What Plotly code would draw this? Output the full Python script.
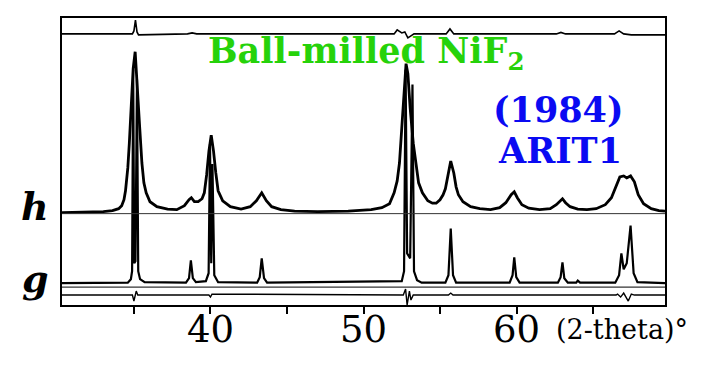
import plotly.graph_objects as go

# ---------------- data ----------------
# pattern h (ball-milled NiF2, ARIT1 fit): 2-theta (deg) and intensity above its baseline
h_theta = [30.3, 32.0, 33.0, 33.6, 34.0, 34.2, 34.35, 34.45, 34.6, 34.7, 34.8, 34.95, 35.08, 35.22, 35.38,
           35.52, 35.65, 35.8, 36.05, 36.5, 37.2, 37.8, 38.3, 38.6, 38.75, 38.95, 39.2, 39.45, 39.6, 39.75,
           39.9, 40.05, 40.2, 40.35, 40.5, 40.8, 41.3, 42.0, 42.6, 43.0, 43.35, 43.65, 44.0, 44.6, 45.5,
           47.0, 49.0, 50.5, 51.2, 51.7, 52.0, 52.2, 52.35, 52.5, 52.65, 52.78, 52.9, 53.05, 53.25, 53.45,
           53.6, 53.85, 54.2, 54.5, 54.75, 55.0, 55.2, 55.35, 55.5, 55.7, 55.9, 56.05, 56.2, 56.5, 57.0,
           57.6, 58.3, 58.9, 59.3, 59.65, 59.85, 60.05, 60.35, 60.8, 61.5, 62.2, 62.6, 62.85, 63.0, 63.2,
           63.5, 64.0, 64.6, 65.2, 65.8, 66.2, 66.5, 66.75, 67.0, 67.2, 67.45, 67.7, 67.95, 68.3, 68.8,
           69.3, 69.7]
h_int = [0, 0.5, 1, 2, 4, 7, 13, 22, 45, 70, 100, 145, 162, 130, 85,
         50, 30, 20, 11, 6, 3.5, 3, 7, 13, 15, 11, 11, 14, 20, 38,
         62, 78, 62, 40, 22, 12, 6, 3.5, 6, 12, 20, 12, 6, 3, 1.5,
         1, 1.5, 3, 5, 9, 20, 32, 50, 85, 125, 150, 140, 105, 70, 45,
         30, 20, 12, 9.5, 9.5, 13, 18, 24, 38, 52, 40, 26, 18, 11, 6,
         4, 3, 5, 10, 18, 21, 15, 8, 4.5, 3, 4, 8, 12, 14, 10,
         6, 3.5, 3, 4, 8, 15, 27, 36, 37, 35, 37, 31, 18, 9, 4,
         2, 1.5]

# pattern g
g_theta = [30.3, 34.6, 34.8, 34.88, 34.95, 35.02, 35.1, 35.2, 35.28, 35.4, 35.7,
           38.4, 38.6, 38.72, 38.85, 39.05,
           39.7, 39.88, 39.97, 40.05, 40.13, 40.25, 40.5,
           43.05, 43.22, 43.35, 43.5, 43.7,
           52.5, 52.65, 52.75, 52.85, 53.05, 53.2, 53.3, 53.5, 53.8,
           55.35, 55.55, 55.7, 55.85, 56.05,
           59.55, 59.74, 59.85, 59.98, 60.2,
           62.7, 62.88, 63.0, 63.12, 63.35,
           63.9, 64.0, 64.15,
           66.45, 66.7, 66.85, 67.0, 67.2, 67.45, 67.65, 67.9, 69.7]
g_int = [0, 0.5, 4, 12, 215, 20, 22, 205, 12, 4, 1,
         0.5, 5, 23, 5, 1,
         2, 10, 140, 20, 120, 8, 1,
         0.5, 6, 25, 5, 0.5,
         2, 12, 215, 30, 25, 200, 12, 3, 0.5,
         0.5, 8, 55, 8, 0.5,
         0.5, 8, 26, 6, 0.5,
         0.5, 6, 21, 5, 0.5,
         0.5, 2.5, 0.5,
         0.5, 8, 30, 14, 20, 58, 10, 1, 0]

# difference curves
hd_theta = [30.3, 34.9, 35.0, 35.1, 35.2, 35.3, 38.5, 38.8, 39.1, 52.0, 52.2, 52.5, 52.7, 52.9, 53.1, 53.3,
            55.4, 55.65, 55.9, 62.6, 62.9, 63.2, 66.4, 66.7, 67.0, 67.5, 69.7]
hd_int = [0, 0, 3, 14, 2, -1, 0, 1, 0, 0, 4, 1, 2, -4, -2, 0,
          0, 5, 0, 0, 1.5, 0, 0, 3, 0, -1, -1]

gd_theta = [30.3, 34.9, 35.0, 35.15, 35.25, 39.9, 40.0, 40.1, 52.6, 52.75, 52.85, 53.0, 53.1, 53.25,
            55.55, 55.7, 55.85, 66.5, 66.6, 66.8, 67.0, 67.3, 67.5, 67.7, 69.7]
gd_int = [0, 0, -6, 4, 0, 0, -2, 1, 0, 6, -10, 4, -5, 0,
          0, 2, 0, 0, 1, -2, 2, -6, 1, 0, 0]

tick_vals = [35, 40, 45, 50, 55, 60, 65]
label_vals = [40, 50, 60]
label_text = ["40", "50", "60"]

# ---------------- styling / layout ----------------
H_OFF, G_OFF, HD_OFF, GD_OFF = 93, 22, 273, 10

fig = go.Figure()
fig.add_trace(go.Scatter(x=h_theta, y=[v + H_OFF for v in h_int], mode="lines",
                         line=dict(color="black", width=2.8)))
fig.add_trace(go.Scatter(x=g_theta, y=[v + G_OFF for v in g_int], mode="lines",
                         line=dict(color="black", width=2.2)))
fig.add_trace(go.Scatter(x=hd_theta, y=[v + HD_OFF for v in hd_int], mode="lines",
                         line=dict(color="black", width=1.6)))
fig.add_trace(go.Scatter(x=gd_theta, y=[v + GD_OFF for v in gd_int], mode="lines",
                         line=dict(color="black", width=1.4)))

# thin separator lines
for yy, w in [(92, 1.0), (18, 1.4)]:
    fig.add_shape(type="line", xref="paper", x0=0, x1=1, yref="y", y0=yy, y1=yy,
                  line=dict(color="#333", width=w))

# page has an 8px body margin: figure is shifted by 8px, so compensate
fig.update_layout(
    width=699, height=362,
    margin=dict(l=54, r=42, t=8, b=65),
    paper_bgcolor="white", plot_bgcolor="white",
    showlegend=False,
    xaxis=dict(range=[30.3, 69.7], tickvals=tick_vals, showticklabels=False,
               ticks="outside", ticklen=7, tickwidth=2, tickcolor="black",
               showline=True, linecolor="black", linewidth=2, mirror=True,
               showgrid=False, zeroline=False),
    yaxis=dict(range=[0, 289], showticklabels=False, showgrid=False, zeroline=False,
               showline=True, linecolor="black", linewidth=2, mirror=True, ticks=""),
)

def px(x):
    return (x - 62) / 603.0

def py(y):
    return (305 - y) / 289.0

for v, t in zip(label_vals, label_text):
    fig.add_annotation(x=v, xref="x", y=py(330), yref="paper", text=t, showarrow=False,
                       xanchor="center", yanchor="middle",
                       font=dict(family="DejaVu Serif", size=37, color="black"))

ann = [
    dict(text="<b>Ball-milled NiF<sub>2</sub></b>", x=px(206), y=py(51), xanchor="left", yanchor="middle",
         font=dict(family="DejaVu Serif", size=35, color="#26d20a")),
    dict(text="<b>(1984)</b>", x=px(558), y=py(108.5), xanchor="center", yanchor="middle",
         font=dict(family="DejaVu Serif", size=35, color="#0a0af2")),
    dict(text="<b>ARIT1</b>", x=px(560), y=py(149.5), xanchor="center", yanchor="middle",
         font=dict(family="DejaVu Serif", size=35, color="#0a0af2")),
    dict(text="<b><i>h</i></b>", x=px(35), y=py(206), xanchor="center", yanchor="middle",
         font=dict(family="DejaVu Serif", size=38, color="black")),
    dict(text="<b><i>g</i></b>", x=px(35), y=py(278), xanchor="center", yanchor="middle",
         font=dict(family="DejaVu Serif", size=38, color="black")),
    dict(text="(2-theta)°", x=px(622), y=py(330), xanchor="center", yanchor="middle",
         font=dict(family="DejaVu Serif", size=27, color="black")),
]
for a in ann:
    fig.add_annotation(xref="paper", yref="paper", showarrow=False, **a)

fig.write_html("out.html")
